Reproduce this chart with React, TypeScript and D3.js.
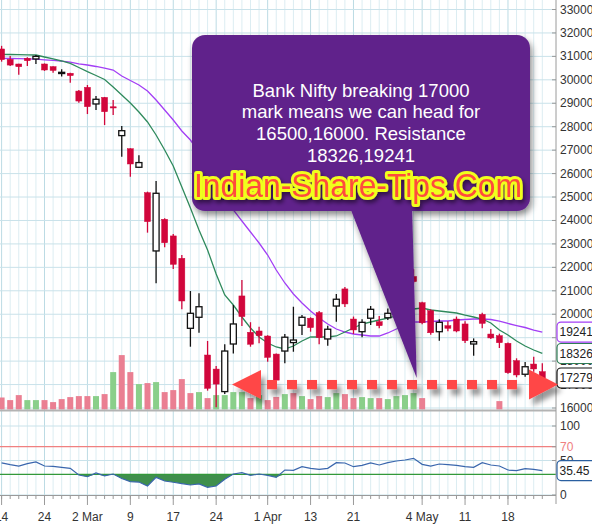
import * as d3 from "d3";

// trading days, Bank Nifty daily
const dates = [
  "2020-02-14", "2020-02-17", "2020-02-18", "2020-02-19", "2020-02-20", "2020-02-24", "2020-02-25", "2020-02-26",
  "2020-02-27", "2020-02-28", "2020-03-02", "2020-03-03", "2020-03-04", "2020-03-05", "2020-03-06", "2020-03-09",
  "2020-03-11", "2020-03-12", "2020-03-13", "2020-03-16", "2020-03-17", "2020-03-18", "2020-03-19", "2020-03-20",
  "2020-03-23", "2020-03-24", "2020-03-25", "2020-03-26", "2020-03-27", "2020-03-30", "2020-03-31", "2020-04-01",
  "2020-04-03", "2020-04-07", "2020-04-08", "2020-04-09", "2020-04-13", "2020-04-15", "2020-04-16", "2020-04-17",
  "2020-04-20", "2020-04-21", "2020-04-22", "2020-04-23", "2020-04-24", "2020-04-27", "2020-04-28", "2020-04-29",
  "2020-04-30", "2020-05-04", "2020-05-05", "2020-05-06", "2020-05-07", "2020-05-08", "2020-05-11", "2020-05-12",
  "2020-05-13", "2020-05-14", "2020-05-15", "2020-05-18", "2020-05-19", "2020-05-20", "2020-05-21", "2020-05-22",
];

const opens = [
  31316, 30875, 30675, 30920, 30890, 30675, 30560, 30290, 30280, 29520, 29680, 28970, 29250, 28850, 27620, 27060,
  26270, 25185, 22700, 24050, 23340, 22385, 19400, 19870, 18260, 17660, 16700, 18730, 20780, 19230, 19285, 19070,
  18300, 18430, 18790, 19530, 19830, 20070, 18945, 20350, 21080, 19795, 19255, 19830, 19680, 19850, 20100, 20500,
  21610, 20490, 20150, 19255, 19510, 19795, 19585, 18730, 19995, 19155, 19085, 18760, 18020, 17440, 17875, 17550,
];
const highs = [
  31450, 31020, 30690, 30960, 31060, 30700, 30580, 30450, 30300, 29566, 29780, 29310, 29270, 29140, 28030, 27080,
  26780, 25230, 25680, 24100, 23420, 22530, 20990, 20900, 18860, 17790, 18720, 20390, 21460, 19660, 19470, 19100,
  18320, 19160, 20320, 19970, 19870, 20140, 19510, 20860, 21160, 19900, 19785, 20350, 19925, 20240, 20500, 20800,
  21920, 20530, 20210, 19785, 19700, 19900, 19700, 18970, 20065, 19370, 19170, 18790, 18120, 17960, 18190, 17905,
];
const lows = [
  30775, 30590, 30220, 30590, 30675, 30380, 30300, 30140, 29880, 29025, 28540, 28710, 28070, 28500, 26720, 25870,
  26250, 23480, 21320, 22860, 21930, 20210, 18615, 19210, 16740, 16030, 16600, 18330, 19500, 18615, 18760, 17975,
  17100, 17905, 18400, 19115, 19255, 18720, 18660, 19680, 20310, 19160, 19015, 19540, 19400, 19750, 19950, 20300,
  21320, 19570, 19130, 18870, 19270, 19230, 18770, 18230, 19400, 18940, 18560, 17460, 17310, 17335, 17550, 17150,
];
const closes = [
  30860, 30630, 30560, 30815, 31000, 30420, 30400, 30320, 30180, 29095, 28855, 29170, 28640, 28820, 27830, 26410,
  26470, 23950, 25160, 23050, 22130, 20565, 20040, 20320, 16840, 17020, 18430, 19585, 19900, 18720, 19085, 18160,
  17190, 19020, 18900, 19870, 19430, 19000, 19360, 20640, 20440, 19330, 19655, 20210, 19510, 20040, 20420, 20700,
  21390, 19635, 19210, 19655, 19400, 19285, 18870, 18830, 19610, 18990, 18785, 17505, 17410, 17760, 17665, 17279,
];
const prevClose = 31340;

const volumes: (number | null)[] = [
  60, 47, 72, 47, 47, 47, 37, 52, 62, 67, 67, 67, 77, 187, 272, 187,
  127, 132, 137, 87, 97, 152, 82, 87, 57, 72, 72, 87, 87, 57, 72, 47,
  63, 77, 82, 67, 52, 67, 62, 82, 77, 57, 62, 57, 57, 52, 67, 72,
  82, 57, null, null, null, null, null, null, null, null, 42, null, null, null, null, null,
];

const sma10 = [
  31089, 31080, 31072, 31063, 31059, 30974, 30897, 30803, 30697, 30526, 30347, 30185, 30014, 29694, 29353, 29011,
  28627, 28201, 27646, 27006, 26324, 25428, 24532, 23593, 22740, 21716, 20820, 20394, 19882, 19413, 19029, 18773,
  18603, 18517, 18645, 18858, 19029, 19029, 19029, 19072, 19242, 19413, 19583, 19669, 19754, 19839, 19925, 20053,
  20223, 20266, 20181, 20138, 20095, 20053, 19967, 19882, 19797, 19626, 19327, 19114, 18858, 18645, 18474, 18326,
];
const sma20 = [
  30918, 30910, 30901, 30893, 30880, 30854, 30833, 30795, 30752, 30684, 30633, 30569, 30496, 30419, 30163, 29971,
  29779, 29523, 29139, 28713, 28286, 27817, 27433, 26921, 26281, 25641, 25001, 24447, 23977, 23508, 23039, 22527,
  21887, 21333, 20863, 20479, 20138, 19839, 19583, 19370, 19242, 19157, 19114, 19072, 19072, 19200, 19370, 19541,
  19669, 19669, 19690, 19711, 19711, 19754, 19775, 19797, 19797, 19775, 19711, 19605, 19519, 19434, 19327, 19241,
];

const rsi = [
  46.5, 44, 42, 45.5, 48, 42, 41.5, 40, 38.7, 29, 26.5, 32, 27.7, 30.4, 24, 19.3,
  18.8, 13, 25.6, 20.3, 18.5, 16.5, 14.5, 16, 11.1, 13, 22.7, 30.4, 32.3, 28.5, 30.4, 28.5,
  25.6, 36.2, 35.7, 41, 38.7, 37.2, 38.7, 46.8, 46.4, 41, 42.9, 46.4, 43.5, 46.8, 49.3, 50.7,
  53.1, 44.4, 42, 44.9, 44, 42.9, 41, 40, 46.8, 43.5, 42, 36.2, 35.3, 38.2, 37.2, 35.45,
];

const priceTicks = [16000, 17000, 18000, 19000, 20000, 21000, 22000, 23000, 24000, 25000, 26000, 27000, 28000, 29000, 30000, 31000, 32000, 33000];
const rsiTicks = [0, 50, 70, 100];
const dateTicks = [
  "2020-02-14", "2020-02-24", "2020-03-02", "2020-03-09", "2020-03-17", "2020-03-24",
  "2020-04-01", "2020-04-13", "2020-04-21", "2020-05-04", "2020-05-11", "2020-05-18",
];

const noteLines = [
  "Bank Nifty breaking 17000",
  "mark means we can head for",
  "16500,16000. Resistance",
  "18326,19241",
];
const brand = "Indian-Share-Tips.Com";
const breakLevel = 17000;

const W = 592;
const H = 532;
const plotRight = 556;
const FONT = "'Liberation Sans', Arial, sans-serif";

export default function App() {
  const parse = d3.timeParse("%Y-%m-%d");
  const x = d3.scaleLinear().domain([0, dates.length - 1]).range([1.6, 542.3]);
  const y = d3.scaleLinear().domain([16000, 33000]).range([408, 9.5]);
  const yVol = d3.scaleLinear().domain([0, 300]).range([409.5, 349.5]);
  const yR = d3.scaleLinear().domain([0, 100]).range([495, 426]);

  const red = "#d1063b";
  const volUp = "#8acf8a";
  const volDown = "#ea7f92";

  const maLine = d3.line<number>().x((d, i) => x(i)).y((d) => y(d));
  const rsiLine = d3.line<number>().x((d, i) => x(i)).y((d) => yR(d));
  const rsiArea = d3
    .area<number>()
    .x((d, i) => x(i))
    .y0(yR(30))
    .y1((d) => yR(Math.min(d, 30)));

  const tickIdx = dateTicks.map((t) => dates.indexOf(t));
  const fmtTick = (s: string) => {
    const d = parse(s)!;
    const idx = dates.indexOf(s);
    const first = idx > 0 && parse(dates[idx - 1])!.getMonth() !== d.getMonth();
    return first ? d3.timeFormat("%-d %b")(d) : d3.timeFormat("%-d")(d);
  };

  const yLvl = y(breakLevel);
  const squares = d3.range(267, 517, 20);

  const lastBox = (v: string, cy: number, color: string) => (
    <g>
      <rect x={557} y={cy - 10} width={40} height={20} rx={4} fill="#fff" stroke={color} strokeWidth={1.2} />
      <text x={559.5} y={cy + 4.3} fontSize={12} fill="#222">{v}</text>
    </g>
  );

  return (
    <svg width={W} height={H} style={{ position: "absolute", left: 0, top: 0, background: "#fff" }} fontFamily={FONT}>
      <defs>
        <clipPath id="plot">
          <rect x={0} y={0} width={plotRight} height={410} />
        </clipPath>
        <filter id="shadow" x="-10%" y="-10%" width="130%" height="140%">
          <feDropShadow dx={2} dy={4} stdDeviation={3} floodColor="#000" floodOpacity={0.45} />
        </filter>
        <filter id="arrowShadow" x="-20%" y="-40%" width="160%" height="220%">
          <feDropShadow dx={4} dy={6} stdDeviation={2.5} floodColor="#000" floodOpacity={0.4} />
        </filter>
        <filter id="textShadow" x="-10%" y="-30%" width="130%" height="180%">
          <feDropShadow dx={2} dy={3} stdDeviation={2} floodColor="#000" floodOpacity={0.5} />
        </filter>
      </defs>

      {/* grid */}
      <g>
        {dates.map((d, i) => (
          <line key={"v" + i} x1={x(i)} x2={x(i)} y1={0} y2={495}
            stroke={tickIdx.includes(i) ? "#bcdbe4" : "#dcedf2"} strokeWidth={1} />
        ))}
        {priceTicks.map((t) => (
          <line key={"h" + t} x1={0} x2={plotRight} y1={y(t)} y2={y(t)} stroke="#c9e2ea" />
        ))}
        {[100, 50, 0].map((t) => (
          <line key={"r" + t} x1={0} x2={plotRight} y1={yR(t)} y2={yR(t)} stroke="#c9e2ea" />
        ))}
      </g>

      {/* volume */}
      <g clipPath="url(#plot)">
        {volumes.map((v, i) =>
          v == null ? null : (
            <rect key={"vol" + i} x={x(i) - 3} width={6} y={yVol(v)} height={yVol(0) - yVol(v)}
              fill={closes[i] >= (i === 0 ? prevClose : closes[i - 1]) ? volUp : volDown} />
          )
        )}
      </g>
      <line x1={0} x2={plotRight} y1={410.5} y2={410.5} stroke="#b3b3b3" strokeWidth={2} />

      {/* moving averages */}
      <g clipPath="url(#plot)" fill="none">
        <path d={maLine(sma20)!} stroke="#a33ef5" strokeWidth={1.3} />
        <path d={maLine(sma10)!} stroke="#2f8a5c" strokeWidth={1.3} />
      </g>

      {/* candles */}
      <g clipPath="url(#plot)">
        {dates.map((d, i) => {
          const up = closes[i] >= opens[i];
          const top = y(Math.max(opens[i], closes[i]));
          const bot = y(Math.min(opens[i], closes[i]));
          const col = up ? "#111" : red;
          return (
            <g key={"c" + i}>
              <line x1={x(i)} x2={x(i)} y1={y(highs[i])} y2={y(lows[i])} stroke={col} strokeWidth={1.3} />
              <rect x={x(i) - 3} width={6} y={top} height={Math.max(bot - top, 1.2)}
                fill={up ? "#fff" : red} stroke={up ? "#111" : red} strokeWidth={up ? 1.3 : 0.5} />
            </g>
          );
        })}
      </g>

      {/* RSI */}
      <line x1={0} x2={plotRight} y1={yR(70)} y2={yR(70)} stroke="#f08080" strokeWidth={1.2} />
      <path d={rsiArea(rsi)!} fill="#3f8f4c" />
      <line x1={0} x2={plotRight} y1={yR(30)} y2={yR(30)} stroke="#33993a" strokeWidth={1.2} />
      <path d={rsiLine(rsi)!} fill="none" stroke="#3a66ad" strokeWidth={1.2} />

      {/* axes */}
      <line x1={plotRight} x2={plotRight} y1={0} y2={504} stroke="#9a9a9a" strokeWidth={1} />
      <line x1={0} x2={plotRight} y1={495.5} y2={495.5} stroke="#9a9a9a" strokeWidth={1} />
      {priceTicks.map((t) => (
        <g key={"pt" + t}>
          <line x1={552} x2={plotRight} y1={y(t)} y2={y(t)} stroke="#9a9a9a" />
          <text x={560} y={y(t) + 4} fontSize={12} fill="#333">{t}</text>
        </g>
      ))}
      {rsiTicks.map((t) => (
        <g key={"rt" + t}>
          <line x1={552} x2={plotRight} y1={yR(t)} y2={yR(t)} stroke="#9a9a9a" />
          <text x={560} y={yR(t) + 4} fontSize={12} fill={t === 70 ? "#f08080" : "#333"}>{t}</text>
        </g>
      ))}
      {dates.map((d, i) => (
        <line key={"mt" + i} x1={x(i)} x2={x(i)} y1={495.5} y2={499} stroke="#9a9a9a" />
      ))}
      {dateTicks.map((t, k) => (
        <g key={"dt" + t}>
          <line x1={x(tickIdx[k])} x2={x(tickIdx[k])} y1={495.5} y2={505} stroke="#9a9a9a" />
          <text x={x(tickIdx[k])} y={521} fontSize={12} fill="#333" textAnchor="middle">{fmtTick(t)}</text>
        </g>
      ))}

      {/* last value boxes */}
      {lastBox(String(sma20[sma20.length - 1]), y(sma20[sma20.length - 1]), "#a33ef5")}
      {lastBox(String(sma10[sma10.length - 1]), y(sma10[sma10.length - 1]), "#2f7d55")}
      {lastBox(String(closes[closes.length - 1]), y(closes[closes.length - 1]), "#111")}
      {lastBox(rsi[rsi.length - 1].toFixed(2), yR(rsi[rsi.length - 1]), "#2a5fa0")}

      {/* dashed arrow at the 17000 mark */}
      <g filter="url(#arrowShadow)" fill="#ff4646">
        <polygon points={`232,${yLvl} 261,${yLvl - 14.5} 261,${yLvl + 14.5}`} />
        {squares.map((sx) => (
          <rect key={"sq" + sx} x={sx} y={yLvl - 4.6} width={10} height={9.3} />
        ))}
        <polygon points={`529,${yLvl - 15} 529,${yLvl + 15} 558,${yLvl}`} />
      </g>

      {/* callout */}
      <g filter="url(#shadow)" fill="#61238b">
        <rect x={192} y={35} width={338} height={176} rx={13} />
        <polygon points="349,205 412,205 416.7,378" />
      </g>
      <g fontSize={18.5} fill="#fff" textAnchor="middle">
        {noteLines.map((l, k) => (
          <text key={"n" + k} x={361} y={96.5 + k * 21.7}>{l}</text>
        ))}
      </g>
      <text x={194} y={197} fontSize={34} textLength={328} lengthAdjust="spacingAndGlyphs"
        fill="#ff4b3c" stroke="#f0ff1e" strokeWidth={6} strokeLinejoin="round"
        style={{ paintOrder: "stroke" }} filter="url(#textShadow)">{brand}</text>
    </svg>
  );
}
